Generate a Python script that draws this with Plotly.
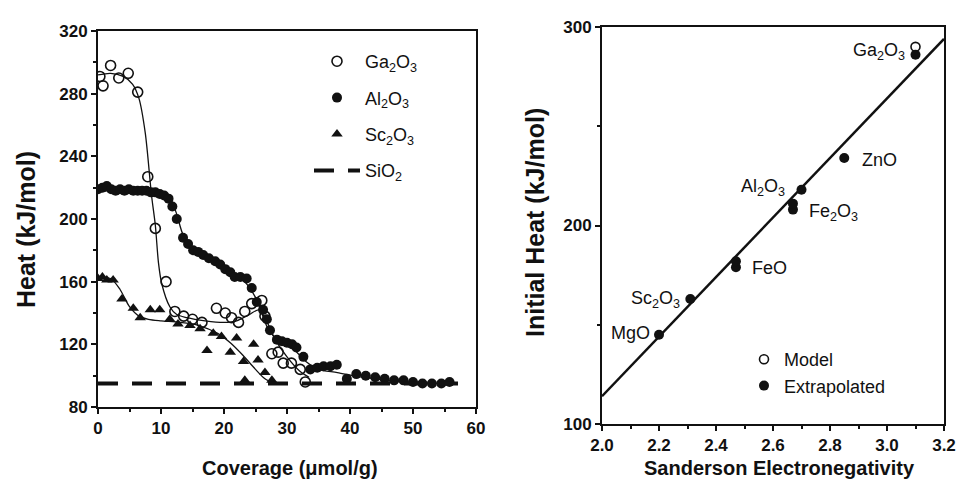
import plotly.graph_objects as go

# ---------------- Left panel data: Heat vs coverage ----------------
ga_x = [0.3, 0.8, 2.0, 3.3, 4.8, 6.3, 7.9, 9.1, 10.8, 12.2, 13.6, 15.0, 16.5, 18.8, 20.2, 21.2, 22.3, 23.3, 24.4, 26.0, 26.5, 27.6, 28.6, 29.4, 30.7, 32.1, 32.9]
ga_y = [291, 285, 298, 290, 293, 281, 227, 194, 160, 141, 138, 136, 134, 143, 140, 137, 134, 141, 146, 148, 138, 114, 115, 108, 108, 104, 96]

al_x = [0.0, 0.7, 1.4, 2.1, 2.8, 3.5, 4.2, 4.9, 5.6, 6.3, 7.0, 7.7, 8.4, 9.1, 9.8, 10.5, 11.2, 11.8, 12.5, 13.5, 14.3, 15.1, 15.9, 16.7, 17.6, 18.6, 19.4, 20.2, 21.0, 21.7, 22.6, 23.6, 24.4, 25.2, 26.2, 26.8, 27.3, 28.4, 29.2, 30.0, 30.8, 31.5, 32.6, 33.7, 34.8, 35.8, 36.9, 37.9, 39.5, 41.0, 42.5, 44.0, 45.5, 47.0, 48.5, 50.0, 51.5, 53.0, 54.5, 55.8]
al_y = [219, 220, 221, 219, 218, 219, 218, 219, 218, 218, 218, 218, 217, 217, 216, 215, 213, 208, 200, 188, 184, 180, 179, 177, 175, 173, 171, 168, 166, 163, 163, 162, 156, 147, 142, 136, 129, 123, 122, 121, 120, 118, 112, 104, 105, 106, 106, 107, 98, 101, 100, 99, 98, 97, 97, 96, 95, 95, 95, 96]

sc_x = [0.0, 0.7, 1.4, 2.4, 3.8, 5.6, 6.7, 8.3, 9.8, 11.4, 12.7, 14.6, 16.2, 17.3, 18.3, 19.6, 21.0, 22.0, 23.1, 23.3, 24.7, 25.4, 26.5, 27.6]
sc_y = [162, 163, 161, 161, 149, 143, 137, 142, 142, 136, 133, 132, 130, 116, 127, 125, 115, 124, 109, 97, 120, 110, 102, 97]

# smooth guide curves drawn through each series
ga_fit_x = [0, 2, 4, 5.5, 6.5, 7.5, 8.5, 9.1, 9.6, 10.1, 11.4, 12.5, 14.1, 17, 20, 22, 24, 25.5, 26.5, 28, 30, 32, 33.5]
ga_fit_y = [292, 293, 291, 286, 277, 255, 215, 196, 172, 159, 144, 139, 137, 135, 134, 135, 139, 142, 137, 124, 112, 103, 99]
al_fit_x = [0, 4, 8, 10, 11.5, 12.5, 13.5, 15, 17, 20, 23, 25, 27, 29, 31, 33, 35, 38, 42, 48, 56]
al_fit_y = [218, 218, 218, 217, 213, 203, 190, 182, 176, 168, 161, 150, 130, 121, 117, 109, 104, 102, 99, 96, 95]
sc_fit_x = [0, 2, 3.5, 5, 6.5, 8, 10, 13, 16, 19, 21, 23, 25, 26.5, 28]
sc_fit_y = [162, 162, 155, 144, 138, 136, 135, 134, 132, 127, 121, 113, 104, 98, 95]

sio2_x = [0, 59]
sio2_y = [95, 95]

left_xticks = [0, 10, 20, 30, 40, 50, 60]
left_yticks = [80, 120, 160, 200, 240, 280, 320]

# ---------------- Right panel data: initial heat vs electronegativity ----------------
oxides = ["MgO", "Sc<sub>2</sub>O<sub>3</sub>", "FeO", "Fe<sub>2</sub>O<sub>3</sub>", "Al<sub>2</sub>O<sub>3</sub>", "ZnO", "Ga<sub>2</sub>O<sub>3</sub>"]
ext_x = [2.20, 2.31, 2.47, 2.47, 2.67, 2.67, 2.70, 2.85, 3.10]
ext_y = [145, 163, 179, 182, 208, 211, 218, 234, 286]
model_x = [3.10]
model_y = [290]
lab_x = [2.174, 2.280, 2.519, 2.718, 2.648, 2.905, 3.069]
lab_y = [145.8, 162.5, 178.6, 206.3, 218.9, 233.0, 287.6]
lab_side = ["right", "right", "left", "left", "right", "left", "right"]

fit_x = [2.0, 3.2]
fit_y = [114, 294]

right_xticks = [2.0, 2.2, 2.4, 2.6, 2.8, 3.0, 3.2]
right_yticks = [100, 200, 300]

# ---------------- Figure ----------------
BLACK = "#111111"
FONT = "Liberation Sans, Arial, sans-serif"
W, H, OFF = 957, 479, 8   # page body has an 8px margin


def px(X):
    return (X - OFF) / W


def py(Y):
    return 1 - (Y - OFF) / H


fig = go.Figure()

# guide curves (left)
for fx, fy in [(ga_fit_x, ga_fit_y), (al_fit_x, al_fit_y), (sc_fit_x, sc_fit_y)]:
    fig.add_trace(go.Scatter(x=fx, y=fy, mode="lines", line=dict(color=BLACK, width=1.3, shape="spline", smoothing=0.8),
                             showlegend=False, hoverinfo="skip", xaxis="x", yaxis="y"))

fig.add_trace(go.Scatter(x=ga_x, y=ga_y, mode="markers", name="Ga<sub>2</sub>O<sub>3</sub>",
                         marker=dict(symbol="circle-open", size=10, color=BLACK, line=dict(width=1.6)),
                         legend="legend", legendgroup="a", xaxis="x", yaxis="y"))
fig.add_trace(go.Scatter(x=al_x, y=al_y, mode="markers", name="Al<sub>2</sub>O<sub>3</sub>",
                         marker=dict(symbol="circle", size=10, color=BLACK),
                         legend="legend", legendgroup="b", xaxis="x", yaxis="y"))
fig.add_trace(go.Scatter(x=sc_x, y=sc_y, mode="markers", name="Sc<sub>2</sub>O<sub>3</sub>",
                         marker=dict(symbol="triangle-up", size=10, color=BLACK),
                         legend="legend", legendgroup="c", xaxis="x", yaxis="y"))
fig.add_trace(go.Scatter(x=sio2_x, y=sio2_y, mode="lines", name="SiO<sub>2</sub>",
                         line=dict(color=BLACK, width=4, dash="20px,14px"),
                         legend="legend", legendgroup="d", xaxis="x", yaxis="y"))

# right panel
fig.add_trace(go.Scatter(x=fit_x, y=fit_y, mode="lines", line=dict(color=BLACK, width=2.5),
                         showlegend=False, hoverinfo="skip", xaxis="x2", yaxis="y2"))
fig.add_trace(go.Scatter(x=model_x, y=model_y, mode="markers", name="Model",
                         marker=dict(symbol="circle-open", size=9, color=BLACK, line=dict(width=1.6)),
                         legend="legend2", legendgroup="m", xaxis="x2", yaxis="y2"))
fig.add_trace(go.Scatter(x=ext_x, y=ext_y, mode="markers", name="Extrapolated",
                         marker=dict(symbol="circle", size=10, color=BLACK),
                         legend="legend2", legendgroup="e", xaxis="x2", yaxis="y2"))

annotations = []
for t, x, y, s in zip(oxides, lab_x, lab_y, lab_side):
    annotations.append(dict(x=x, y=y, xref="x2", yref="y2", text=t, showarrow=False, xanchor=s, yanchor="middle",
                            font=dict(family=FONT, size=18, color=BLACK)))

title_font = dict(family=FONT, size=20, color=BLACK, weight="bold")
vtitle_font = dict(family=FONT, size=25, color=BLACK, weight="bold")
annotations += [
    dict(x=px(290), y=py(468), xref="paper", yref="paper", text="<b>Coverage (μmol/g)</b>", showarrow=False,
         xanchor="center", yanchor="middle", font=title_font),
    dict(x=px(779), y=py(468), xref="paper", yref="paper", text="<b>Sanderson Electronegativity</b>", showarrow=False,
         xanchor="center", yanchor="middle", font=title_font),
    dict(x=px(26), y=py(230), xref="paper", yref="paper", text="<b>Heat (kJ/mol)</b>", showarrow=False, textangle=-90,
         xanchor="center", yanchor="middle", font=vtitle_font),
    dict(x=px(535), y=py(223), xref="paper", yref="paper", text="<b>Initial Heat (kJ/mol)</b>", showarrow=False, textangle=-90,
         xanchor="center", yanchor="middle", font=vtitle_font),
]

axis_common = dict(showline=True, linecolor=BLACK, linewidth=2, mirror=True, ticks="outside", ticklen=5,
                   tickwidth=1.5, tickcolor=BLACK, showgrid=False, zeroline=False, automargin=False,
                   tickfont=dict(family=FONT, size=17, color=BLACK, weight="bold"))

fig.update_layout(
    width=W, height=H, autosize=False,
    margin=dict(l=0, r=0, t=0, b=0),
    paper_bgcolor="white", plot_bgcolor="white",
    xaxis=dict(domain=[px(98), px(476)], range=[0, 60], tickvals=left_xticks, anchor="y",
               minor=dict(dtick=5, ticks="outside", ticklen=3, tickcolor=BLACK), **axis_common),
    yaxis=dict(domain=[py(407), py(31)], range=[80, 320], tickvals=left_yticks, anchor="x",
               minor=dict(dtick=20, ticks="outside", ticklen=3, tickcolor=BLACK), **axis_common),
    xaxis2=dict(domain=[px(602), px(944)], range=[2.0, 3.2], tickvals=right_xticks, ticktext=[f"{v:.1f}" for v in right_xticks],
                anchor="y2", minor=dict(dtick=0.1, ticks="outside", ticklen=3, tickcolor=BLACK), **axis_common),
    yaxis2=dict(domain=[py(424), py(27)], range=[100, 300], tickvals=right_yticks, anchor="x2",
                minor=dict(dtick=50, ticks="outside", ticklen=3, tickcolor=BLACK), **axis_common),
    legend=dict(x=px(309), y=py(43), xanchor="left", yanchor="top", bgcolor="rgba(0,0,0,0)",
                font=dict(family=FONT, size=18, color=BLACK), tracegroupgap=10, itemwidth=46),
    legend2=dict(x=px(744), y=py(341), xanchor="left", yanchor="top", bgcolor="rgba(0,0,0,0)",
                 font=dict(family=FONT, size=18, color=BLACK), tracegroupgap=0, itemwidth=30),
    annotations=annotations,
)

fig.write_html("out.html")
